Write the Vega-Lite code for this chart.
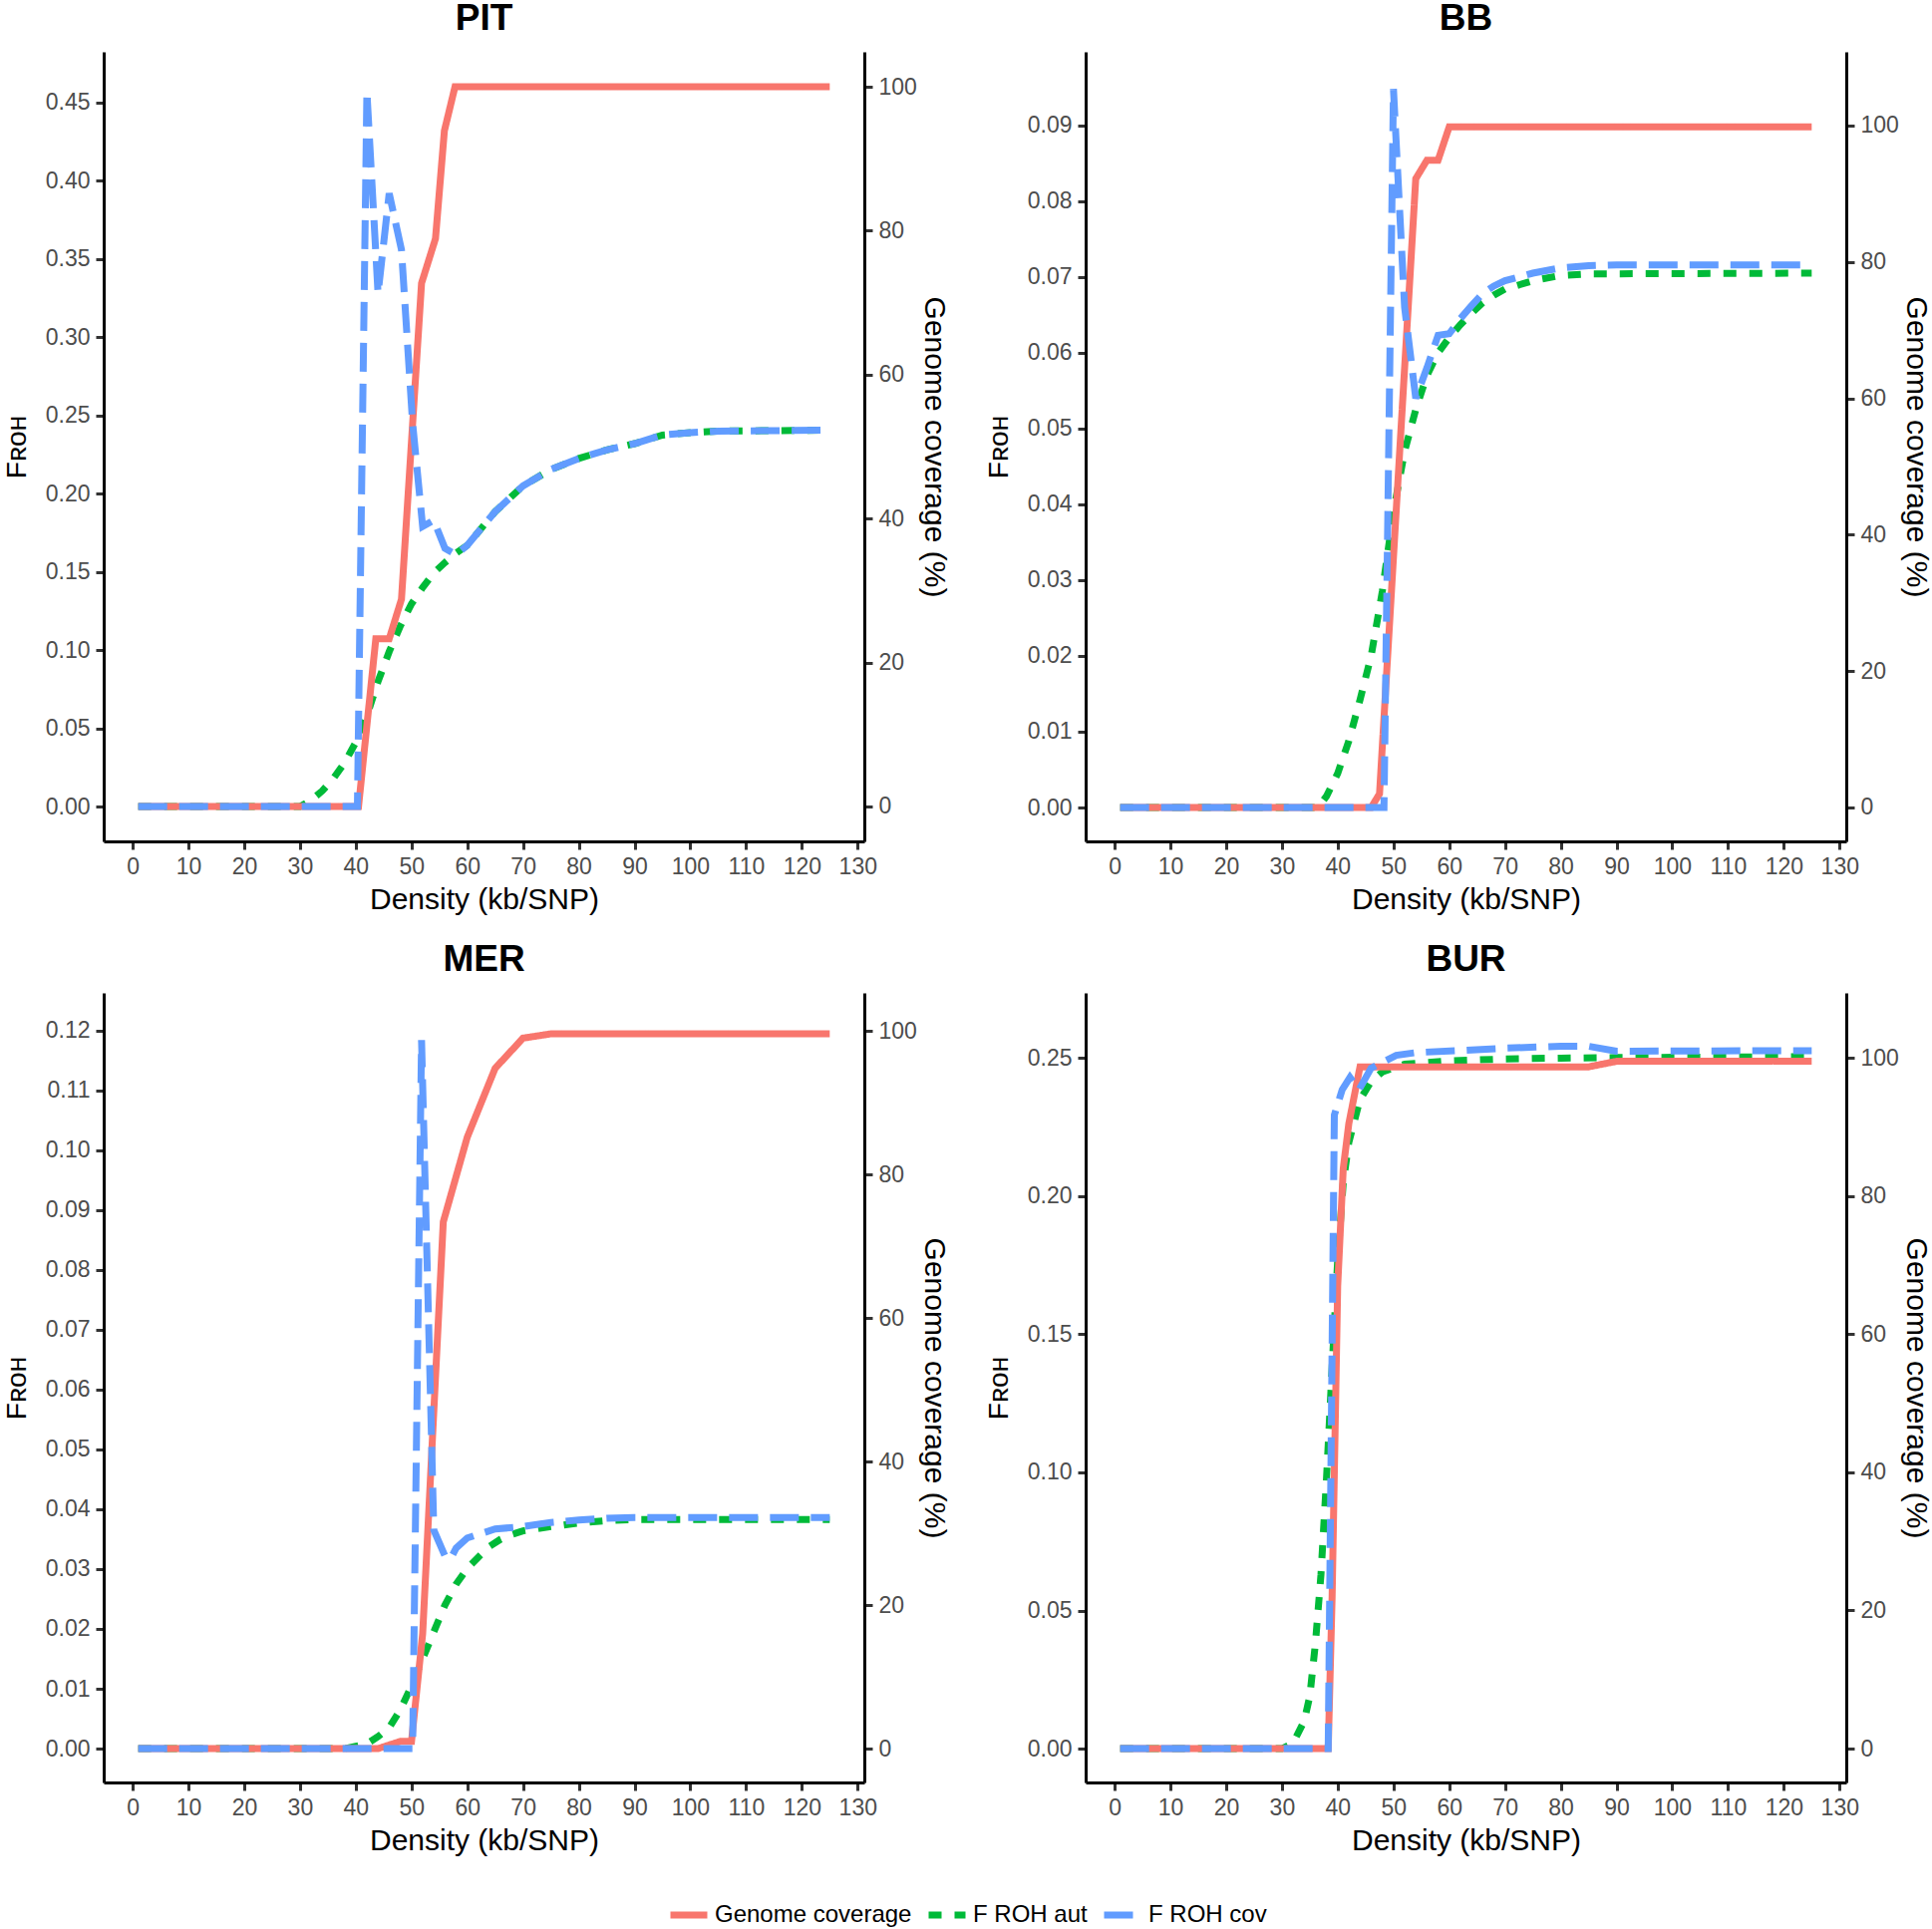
{
  "$schema": "https://vega.github.io/schema/vega-lite/v6.json",
  "padding": {"left": 3, "top": 0, "right": 0, "bottom": 0},
  "datasets": {
    "roh": [
      {"p":"PIT","s":"Genome coverage","x":1,"v":0},{"p":"PIT","s":"Genome coverage","x":40.5,"v":0},{"p":"PIT","s":"Genome coverage","x":43.6,"v":23.3},{"p":"PIT","s":"Genome coverage","x":46,"v":23.3},{"p":"PIT","s":"Genome coverage","x":48.2,"v":28.8},{"p":"PIT","s":"Genome coverage","x":51.8,"v":72.7},{"p":"PIT","s":"Genome coverage","x":54.3,"v":78.9},{"p":"PIT","s":"Genome coverage","x":55.9,"v":93.9},{"p":"PIT","s":"Genome coverage","x":57.8,"v":100},{"p":"PIT","s":"Genome coverage","x":125,"v":100},
      {"p":"PIT","s":"F ROH aut","x":1,"v":0},{"p":"PIT","s":"F ROH aut","x":30,"v":0},{"p":"PIT","s":"F ROH aut","x":32,"v":0.004},{"p":"PIT","s":"F ROH aut","x":34,"v":0.01},{"p":"PIT","s":"F ROH aut","x":36,"v":0.018},{"p":"PIT","s":"F ROH aut","x":38,"v":0.028},{"p":"PIT","s":"F ROH aut","x":40,"v":0.041},{"p":"PIT","s":"F ROH aut","x":42,"v":0.058},{"p":"PIT","s":"F ROH aut","x":44,"v":0.08},{"p":"PIT","s":"F ROH aut","x":46,"v":0.099},{"p":"PIT","s":"F ROH aut","x":48,"v":0.1154},{"p":"PIT","s":"F ROH aut","x":50,"v":0.1296},{"p":"PIT","s":"F ROH aut","x":52,"v":0.14},{"p":"PIT","s":"F ROH aut","x":54,"v":0.1494},{"p":"PIT","s":"F ROH aut","x":56,"v":0.156},{"p":"PIT","s":"F ROH aut","x":58,"v":0.162},{"p":"PIT","s":"F ROH aut","x":60,"v":0.167},{"p":"PIT","s":"F ROH aut","x":65,"v":0.1885},{"p":"PIT","s":"F ROH aut","x":70,"v":0.205},{"p":"PIT","s":"F ROH aut","x":75,"v":0.2155},{"p":"PIT","s":"F ROH aut","x":80,"v":0.2225},{"p":"PIT","s":"F ROH aut","x":85,"v":0.228},{"p":"PIT","s":"F ROH aut","x":90,"v":0.232},{"p":"PIT","s":"F ROH aut","x":95,"v":0.2375},{"p":"PIT","s":"F ROH aut","x":100,"v":0.239},{"p":"PIT","s":"F ROH aut","x":105,"v":0.24},{"p":"PIT","s":"F ROH aut","x":125,"v":0.2406},
      {"p":"PIT","s":"F ROH cov","x":1,"v":0},{"p":"PIT","s":"F ROH cov","x":40.3,"v":0},{"p":"PIT","s":"F ROH cov","x":42,"v":0.457},{"p":"PIT","s":"F ROH cov","x":44,"v":0.328},{"p":"PIT","s":"F ROH cov","x":46,"v":0.392},{"p":"PIT","s":"F ROH cov","x":48.2,"v":0.356},{"p":"PIT","s":"F ROH cov","x":50.2,"v":0.245},{"p":"PIT","s":"F ROH cov","x":52,"v":0.179},{"p":"PIT","s":"F ROH cov","x":54,"v":0.183},{"p":"PIT","s":"F ROH cov","x":56,"v":0.165},{"p":"PIT","s":"F ROH cov","x":58,"v":0.161},{"p":"PIT","s":"F ROH cov","x":60,"v":0.167},{"p":"PIT","s":"F ROH cov","x":65,"v":0.1885},{"p":"PIT","s":"F ROH cov","x":70,"v":0.205},{"p":"PIT","s":"F ROH cov","x":75,"v":0.2155},{"p":"PIT","s":"F ROH cov","x":80,"v":0.2225},{"p":"PIT","s":"F ROH cov","x":85,"v":0.228},{"p":"PIT","s":"F ROH cov","x":90,"v":0.232},{"p":"PIT","s":"F ROH cov","x":95,"v":0.2375},{"p":"PIT","s":"F ROH cov","x":100,"v":0.239},{"p":"PIT","s":"F ROH cov","x":105,"v":0.24},{"p":"PIT","s":"F ROH cov","x":125,"v":0.2406},

      {"p":"BB","s":"Genome coverage","x":1,"v":0},{"p":"BB","s":"Genome coverage","x":46,"v":0},{"p":"BB","s":"Genome coverage","x":47.5,"v":2},{"p":"BB","s":"Genome coverage","x":54,"v":92.2},{"p":"BB","s":"Genome coverage","x":56,"v":94.9},{"p":"BB","s":"Genome coverage","x":58,"v":94.9},{"p":"BB","s":"Genome coverage","x":60,"v":99.8},{"p":"BB","s":"Genome coverage","x":125,"v":99.8},
      {"p":"BB","s":"F ROH aut","x":1,"v":0},{"p":"BB","s":"F ROH aut","x":36.5,"v":0},{"p":"BB","s":"F ROH aut","x":38,"v":0.0015},{"p":"BB","s":"F ROH aut","x":40,"v":0.0045},{"p":"BB","s":"F ROH aut","x":42,"v":0.0088},{"p":"BB","s":"F ROH aut","x":44,"v":0.0142},{"p":"BB","s":"F ROH aut","x":46,"v":0.02},{"p":"BB","s":"F ROH aut","x":48,"v":0.0285},{"p":"BB","s":"F ROH aut","x":50,"v":0.039},{"p":"BB","s":"F ROH aut","x":52,"v":0.047},{"p":"BB","s":"F ROH aut","x":54,"v":0.0525},{"p":"BB","s":"F ROH aut","x":56,"v":0.057},{"p":"BB","s":"F ROH aut","x":58,"v":0.06},{"p":"BB","s":"F ROH aut","x":60,"v":0.062},{"p":"BB","s":"F ROH aut","x":62,"v":0.0637},{"p":"BB","s":"F ROH aut","x":64,"v":0.0652},{"p":"BB","s":"F ROH aut","x":66,"v":0.0666},{"p":"BB","s":"F ROH aut","x":68,"v":0.0676},{"p":"BB","s":"F ROH aut","x":70,"v":0.0684},{"p":"BB","s":"F ROH aut","x":75,"v":0.0695},{"p":"BB","s":"F ROH aut","x":80,"v":0.0702},{"p":"BB","s":"F ROH aut","x":85,"v":0.0704},{"p":"BB","s":"F ROH aut","x":125,"v":0.0705},
      {"p":"BB","s":"F ROH cov","x":1,"v":0},{"p":"BB","s":"F ROH cov","x":48.3,"v":0},{"p":"BB","s":"F ROH cov","x":50,"v":0.0948},{"p":"BB","s":"F ROH cov","x":52,"v":0.066},{"p":"BB","s":"F ROH cov","x":54,"v":0.054},{"p":"BB","s":"F ROH cov","x":56,"v":0.058},{"p":"BB","s":"F ROH cov","x":58,"v":0.0623},{"p":"BB","s":"F ROH cov","x":60,"v":0.0625},{"p":"BB","s":"F ROH cov","x":62,"v":0.0645},{"p":"BB","s":"F ROH cov","x":64,"v":0.0662},{"p":"BB","s":"F ROH cov","x":66,"v":0.0678},{"p":"BB","s":"F ROH cov","x":68,"v":0.0688},{"p":"BB","s":"F ROH cov","x":70,"v":0.0695},{"p":"BB","s":"F ROH cov","x":75,"v":0.0705},{"p":"BB","s":"F ROH cov","x":80,"v":0.0712},{"p":"BB","s":"F ROH cov","x":85,"v":0.0715},{"p":"BB","s":"F ROH cov","x":90,"v":0.0716},{"p":"BB","s":"F ROH cov","x":125,"v":0.0716},

      {"p":"MER","s":"Genome coverage","x":1,"v":0},{"p":"MER","s":"Genome coverage","x":44,"v":0},{"p":"MER","s":"Genome coverage","x":48,"v":1},{"p":"MER","s":"Genome coverage","x":50,"v":1},{"p":"MER","s":"Genome coverage","x":52,"v":16},{"p":"MER","s":"Genome coverage","x":55.7,"v":73.4},{"p":"MER","s":"Genome coverage","x":60,"v":85.2},{"p":"MER","s":"Genome coverage","x":65,"v":94.8},{"p":"MER","s":"Genome coverage","x":70,"v":99},{"p":"MER","s":"Genome coverage","x":75,"v":99.6},{"p":"MER","s":"Genome coverage","x":125,"v":99.6},
      {"p":"MER","s":"F ROH aut","x":1,"v":0},{"p":"MER","s":"F ROH aut","x":38,"v":0},{"p":"MER","s":"F ROH aut","x":42,"v":0.0008},{"p":"MER","s":"F ROH aut","x":44,"v":0.002},{"p":"MER","s":"F ROH aut","x":46,"v":0.0035},{"p":"MER","s":"F ROH aut","x":48,"v":0.0065},{"p":"MER","s":"F ROH aut","x":50,"v":0.0105},{"p":"MER","s":"F ROH aut","x":52,"v":0.015},{"p":"MER","s":"F ROH aut","x":54,"v":0.0195},{"p":"MER","s":"F ROH aut","x":56,"v":0.024},{"p":"MER","s":"F ROH aut","x":58,"v":0.0275},{"p":"MER","s":"F ROH aut","x":60,"v":0.0301},{"p":"MER","s":"F ROH aut","x":62,"v":0.032},{"p":"MER","s":"F ROH aut","x":64,"v":0.0338},{"p":"MER","s":"F ROH aut","x":66,"v":0.035},{"p":"MER","s":"F ROH aut","x":68,"v":0.0358},{"p":"MER","s":"F ROH aut","x":70,"v":0.0364},{"p":"MER","s":"F ROH aut","x":75,"v":0.0371},{"p":"MER","s":"F ROH aut","x":80,"v":0.0377},{"p":"MER","s":"F ROH aut","x":85,"v":0.0381},{"p":"MER","s":"F ROH aut","x":90,"v":0.0383},{"p":"MER","s":"F ROH aut","x":125,"v":0.0383},
      {"p":"MER","s":"F ROH cov","x":1,"v":0},{"p":"MER","s":"F ROH cov","x":50.2,"v":0},{"p":"MER","s":"F ROH cov","x":51.8,"v":0.1184},{"p":"MER","s":"F ROH cov","x":54,"v":0.0365},{"p":"MER","s":"F ROH cov","x":56,"v":0.0322},{"p":"MER","s":"F ROH cov","x":57,"v":0.0317},{"p":"MER","s":"F ROH cov","x":58,"v":0.0335},{"p":"MER","s":"F ROH cov","x":60,"v":0.0352},{"p":"MER","s":"F ROH cov","x":65,"v":0.0367},{"p":"MER","s":"F ROH cov","x":70,"v":0.0371},{"p":"MER","s":"F ROH cov","x":75,"v":0.0378},{"p":"MER","s":"F ROH cov","x":80,"v":0.0382},{"p":"MER","s":"F ROH cov","x":85,"v":0.0385},{"p":"MER","s":"F ROH cov","x":90,"v":0.0386},{"p":"MER","s":"F ROH cov","x":125,"v":0.0386},

      {"p":"BUR","s":"Genome coverage","x":1,"v":0},{"p":"BUR","s":"Genome coverage","x":38.3,"v":0},{"p":"BUR","s":"Genome coverage","x":39,"v":22},{"p":"BUR","s":"Genome coverage","x":40,"v":67},{"p":"BUR","s":"Genome coverage","x":41,"v":84},{"p":"BUR","s":"Genome coverage","x":42,"v":90.5},{"p":"BUR","s":"Genome coverage","x":44,"v":98.7},{"p":"BUR","s":"Genome coverage","x":85,"v":98.7},{"p":"BUR","s":"Genome coverage","x":90,"v":99.5},{"p":"BUR","s":"Genome coverage","x":125,"v":99.5},
      {"p":"BUR","s":"F ROH aut","x":1,"v":0},{"p":"BUR","s":"F ROH aut","x":30,"v":0},{"p":"BUR","s":"F ROH aut","x":32,"v":0.002},{"p":"BUR","s":"F ROH aut","x":34,"v":0.01},{"p":"BUR","s":"F ROH aut","x":35,"v":0.019},{"p":"BUR","s":"F ROH aut","x":36,"v":0.038},{"p":"BUR","s":"F ROH aut","x":37,"v":0.063},{"p":"BUR","s":"F ROH aut","x":38,"v":0.098},{"p":"BUR","s":"F ROH aut","x":39,"v":0.138},{"p":"BUR","s":"F ROH aut","x":40,"v":0.177},{"p":"BUR","s":"F ROH aut","x":41,"v":0.205},{"p":"BUR","s":"F ROH aut","x":42,"v":0.2195},{"p":"BUR","s":"F ROH aut","x":44,"v":0.235},{"p":"BUR","s":"F ROH aut","x":46,"v":0.2415},{"p":"BUR","s":"F ROH aut","x":48,"v":0.245},{"p":"BUR","s":"F ROH aut","x":52,"v":0.2478},{"p":"BUR","s":"F ROH aut","x":60,"v":0.249},{"p":"BUR","s":"F ROH aut","x":70,"v":0.2497},{"p":"BUR","s":"F ROH aut","x":80,"v":0.25},{"p":"BUR","s":"F ROH aut","x":90,"v":0.2502},{"p":"BUR","s":"F ROH aut","x":125,"v":0.2505},
      {"p":"BUR","s":"F ROH cov","x":1,"v":0},{"p":"BUR","s":"F ROH cov","x":38.3,"v":0},{"p":"BUR","s":"F ROH cov","x":39.4,"v":0.2294},{"p":"BUR","s":"F ROH cov","x":40.8,"v":0.2385},{"p":"BUR","s":"F ROH cov","x":42.2,"v":0.243},{"p":"BUR","s":"F ROH cov","x":43.8,"v":0.2385},{"p":"BUR","s":"F ROH cov","x":46,"v":0.2464},{"p":"BUR","s":"F ROH cov","x":50.5,"v":0.251},{"p":"BUR","s":"F ROH cov","x":54,"v":0.252},{"p":"BUR","s":"F ROH cov","x":61.5,"v":0.2527},{"p":"BUR","s":"F ROH cov","x":70,"v":0.2536},{"p":"BUR","s":"F ROH cov","x":80,"v":0.2543},{"p":"BUR","s":"F ROH cov","x":85,"v":0.2543},{"p":"BUR","s":"F ROH cov","x":90,"v":0.2525},{"p":"BUR","s":"F ROH cov","x":125,"v":0.2527}
    ]
  },
  "data": {"name": "roh"},
  "spacing": 27,
  "vconcat": [
    {
      "spacing": 36,
      "hconcat": [
        {
          "title": "PIT", "width": 763, "height": 792,
          "transform": [{"filter": "datum.p == 'PIT'"}],
          "layer": [
            {"transform": [{"filter": "datum.s == 'F ROH aut'"}], "mark": {"type": "line", "strokeWidth": 7, "strokeCap": "butt"},
             "encoding": {
               "x": {"field": "x", "type": "quantitative", "scale": {"domain": [-5.2, 131.2], "nice": false, "zero": false}, "axis": {"title": "Density (kb/SNP)", "values": [0,10,20,30,40,50,60,70,80,90,100,110,120,130], "format": "d"}},
               "y": {"field": "v", "type": "quantitative", "scale": {"domain": [-0.0223, 0.4825], "nice": false, "zero": false}, "axis": {"orient": "left", "title": "Fʀᴏʜ", "titleFontSize": 28, "values": [0,0.05,0.1,0.15,0.2,0.25,0.3,0.35,0.4,0.45], "format": ".2f"}},
               "color": {"field": "s", "type": "nominal", "scale": {"domain": ["Genome coverage","F ROH aut","F ROH cov"], "range": ["#F8766D","#00BA38","#619CFF"]}, "legend": {"title": null}},
               "strokeDash": {"field": "s", "type": "nominal", "scale": {"domain": ["Genome coverage","F ROH aut","F ROH cov"], "range": [[1,0],[13,13],[29,12]]}, "legend": {"title": null}}
             }},
            {"transform": [{"filter": "datum.s == 'Genome coverage'"}], "mark": {"type": "line", "strokeWidth": 7, "strokeCap": "butt"},
             "encoding": {
               "x": {"field": "x", "type": "quantitative", "scale": {"domain": [-5.2, 131.2], "nice": false, "zero": false}, "axis": {"title": "Density (kb/SNP)", "values": [0,10,20,30,40,50,60,70,80,90,100,110,120,130], "format": "d"}},
               "y": {"field": "v", "type": "quantitative", "scale": {"domain": [-4.85, 104.85], "nice": false, "zero": false}, "axis": {"orient": "right", "title": "Genome coverage (%)", "values": [0,20,40,60,80,100], "format": "d"}},
               "color": {"field": "s", "type": "nominal", "scale": {"domain": ["Genome coverage","F ROH aut","F ROH cov"], "range": ["#F8766D","#00BA38","#619CFF"]}, "legend": {"title": null}},
               "strokeDash": {"field": "s", "type": "nominal", "scale": {"domain": ["Genome coverage","F ROH aut","F ROH cov"], "range": [[1,0],[13,13],[29,12]]}, "legend": {"title": null}}
             }},
            {"transform": [{"filter": "datum.s == 'F ROH cov'"}], "mark": {"type": "line", "strokeWidth": 7, "strokeCap": "butt"},
             "encoding": {
               "x": {"field": "x", "type": "quantitative", "scale": {"domain": [-5.2, 131.2], "nice": false, "zero": false}, "axis": {"title": "Density (kb/SNP)", "values": [0,10,20,30,40,50,60,70,80,90,100,110,120,130], "format": "d"}},
               "y": {"field": "v", "type": "quantitative", "scale": {"domain": [-0.0223, 0.4825], "nice": false, "zero": false}, "axis": null},
               "color": {"field": "s", "type": "nominal", "scale": {"domain": ["Genome coverage","F ROH aut","F ROH cov"], "range": ["#F8766D","#00BA38","#619CFF"]}, "legend": {"title": null}},
               "strokeDash": {"field": "s", "type": "nominal", "scale": {"domain": ["Genome coverage","F ROH aut","F ROH cov"], "range": [[1,0],[13,13],[29,12]]}, "legend": {"title": null}}
             }}
          ],
          "resolve": {"scale": {"y": "independent"}}
        },
        {
          "title": "BB", "width": 763, "height": 792,
          "transform": [{"filter": "datum.p == 'BB'"}],
          "layer": [
            {"transform": [{"filter": "datum.s == 'F ROH aut'"}], "mark": {"type": "line", "strokeWidth": 7, "strokeCap": "butt"},
             "encoding": {
               "x": {"field": "x", "type": "quantitative", "scale": {"domain": [-5.2, 131.2], "nice": false, "zero": false}, "axis": {"title": "Density (kb/SNP)", "values": [0,10,20,30,40,50,60,70,80,90,100,110,120,130], "format": "d"}},
               "y": {"field": "v", "type": "quantitative", "scale": {"domain": [-0.00447, 0.0997], "nice": false, "zero": false}, "axis": {"orient": "left", "title": "Fʀᴏʜ", "titleFontSize": 28, "values": [0,0.01,0.02,0.03,0.04,0.05,0.06,0.07,0.08,0.09], "format": ".2f"}},
               "color": {"field": "s", "type": "nominal", "scale": {"domain": ["Genome coverage","F ROH aut","F ROH cov"], "range": ["#F8766D","#00BA38","#619CFF"]}, "legend": {"title": null}},
               "strokeDash": {"field": "s", "type": "nominal", "scale": {"domain": ["Genome coverage","F ROH aut","F ROH cov"], "range": [[1,0],[13,13],[29,12]]}, "legend": {"title": null}}
             }},
            {"transform": [{"filter": "datum.s == 'Genome coverage'"}], "mark": {"type": "line", "strokeWidth": 7, "strokeCap": "butt"},
             "encoding": {
               "x": {"field": "x", "type": "quantitative", "scale": {"domain": [-5.2, 131.2], "nice": false, "zero": false}, "axis": {"title": "Density (kb/SNP)", "values": [0,10,20,30,40,50,60,70,80,90,100,110,120,130], "format": "d"}},
               "y": {"field": "v", "type": "quantitative", "scale": {"domain": [-4.97, 110.8], "nice": false, "zero": false}, "axis": {"orient": "right", "title": "Genome coverage (%)", "values": [0,20,40,60,80,100], "format": "d"}},
               "color": {"field": "s", "type": "nominal", "scale": {"domain": ["Genome coverage","F ROH aut","F ROH cov"], "range": ["#F8766D","#00BA38","#619CFF"]}, "legend": {"title": null}},
               "strokeDash": {"field": "s", "type": "nominal", "scale": {"domain": ["Genome coverage","F ROH aut","F ROH cov"], "range": [[1,0],[13,13],[29,12]]}, "legend": {"title": null}}
             }},
            {"transform": [{"filter": "datum.s == 'F ROH cov'"}], "mark": {"type": "line", "strokeWidth": 7, "strokeCap": "butt"},
             "encoding": {
               "x": {"field": "x", "type": "quantitative", "scale": {"domain": [-5.2, 131.2], "nice": false, "zero": false}, "axis": {"title": "Density (kb/SNP)", "values": [0,10,20,30,40,50,60,70,80,90,100,110,120,130], "format": "d"}},
               "y": {"field": "v", "type": "quantitative", "scale": {"domain": [-0.00447, 0.0997], "nice": false, "zero": false}, "axis": null},
               "color": {"field": "s", "type": "nominal", "scale": {"domain": ["Genome coverage","F ROH aut","F ROH cov"], "range": ["#F8766D","#00BA38","#619CFF"]}, "legend": {"title": null}},
               "strokeDash": {"field": "s", "type": "nominal", "scale": {"domain": ["Genome coverage","F ROH aut","F ROH cov"], "range": [[1,0],[13,13],[29,12]]}, "legend": {"title": null}}
             }}
          ],
          "resolve": {"scale": {"y": "independent"}}
        }
      ]
    },
    {
      "spacing": 36,
      "hconcat": [
        {
          "title": "MER", "width": 763, "height": 792,
          "transform": [{"filter": "datum.p == 'MER'"}],
          "layer": [
            {"transform": [{"filter": "datum.s == 'F ROH aut'"}], "mark": {"type": "line", "strokeWidth": 7, "strokeCap": "butt"},
             "encoding": {
               "x": {"field": "x", "type": "quantitative", "scale": {"domain": [-5.2, 131.2], "nice": false, "zero": false}, "axis": {"title": "Density (kb/SNP)", "values": [0,10,20,30,40,50,60,70,80,90,100,110,120,130], "format": "d"}},
               "y": {"field": "v", "type": "quantitative", "scale": {"domain": [-0.00566, 0.1263], "nice": false, "zero": false}, "axis": {"orient": "left", "title": "Fʀᴏʜ", "titleFontSize": 28, "values": [0,0.01,0.02,0.03,0.04,0.05,0.06,0.07,0.08,0.09,0.1,0.11,0.12], "format": ".2f"}},
               "color": {"field": "s", "type": "nominal", "scale": {"domain": ["Genome coverage","F ROH aut","F ROH cov"], "range": ["#F8766D","#00BA38","#619CFF"]}, "legend": {"title": null}},
               "strokeDash": {"field": "s", "type": "nominal", "scale": {"domain": ["Genome coverage","F ROH aut","F ROH cov"], "range": [[1,0],[13,13],[29,12]]}, "legend": {"title": null}}
             }},
            {"transform": [{"filter": "datum.s == 'Genome coverage'"}], "mark": {"type": "line", "strokeWidth": 7, "strokeCap": "butt"},
             "encoding": {
               "x": {"field": "x", "type": "quantitative", "scale": {"domain": [-5.2, 131.2], "nice": false, "zero": false}, "axis": {"title": "Density (kb/SNP)", "values": [0,10,20,30,40,50,60,70,80,90,100,110,120,130], "format": "d"}},
               "y": {"field": "v", "type": "quantitative", "scale": {"domain": [-4.72, 105.3], "nice": false, "zero": false}, "axis": {"orient": "right", "title": "Genome coverage (%)", "values": [0,20,40,60,80,100], "format": "d"}},
               "color": {"field": "s", "type": "nominal", "scale": {"domain": ["Genome coverage","F ROH aut","F ROH cov"], "range": ["#F8766D","#00BA38","#619CFF"]}, "legend": {"title": null}},
               "strokeDash": {"field": "s", "type": "nominal", "scale": {"domain": ["Genome coverage","F ROH aut","F ROH cov"], "range": [[1,0],[13,13],[29,12]]}, "legend": {"title": null}}
             }},
            {"transform": [{"filter": "datum.s == 'F ROH cov'"}], "mark": {"type": "line", "strokeWidth": 7, "strokeCap": "butt"},
             "encoding": {
               "x": {"field": "x", "type": "quantitative", "scale": {"domain": [-5.2, 131.2], "nice": false, "zero": false}, "axis": {"title": "Density (kb/SNP)", "values": [0,10,20,30,40,50,60,70,80,90,100,110,120,130], "format": "d"}},
               "y": {"field": "v", "type": "quantitative", "scale": {"domain": [-0.00566, 0.1263], "nice": false, "zero": false}, "axis": null},
               "color": {"field": "s", "type": "nominal", "scale": {"domain": ["Genome coverage","F ROH aut","F ROH cov"], "range": ["#F8766D","#00BA38","#619CFF"]}, "legend": {"title": null}},
               "strokeDash": {"field": "s", "type": "nominal", "scale": {"domain": ["Genome coverage","F ROH aut","F ROH cov"], "range": [[1,0],[13,13],[29,12]]}, "legend": {"title": null}}
             }}
          ],
          "resolve": {"scale": {"y": "independent"}}
        },
        {
          "title": "BUR", "width": 763, "height": 792,
          "transform": [{"filter": "datum.p == 'BUR'"}],
          "layer": [
            {"transform": [{"filter": "datum.s == 'F ROH aut'"}], "mark": {"type": "line", "strokeWidth": 7, "strokeCap": "butt"},
             "encoding": {
               "x": {"field": "x", "type": "quantitative", "scale": {"domain": [-5.2, 131.2], "nice": false, "zero": false}, "axis": {"title": "Density (kb/SNP)", "values": [0,10,20,30,40,50,60,70,80,90,100,110,120,130], "format": "d"}},
               "y": {"field": "v", "type": "quantitative", "scale": {"domain": [-0.01226, 0.2736], "nice": false, "zero": false}, "axis": {"orient": "left", "title": "Fʀᴏʜ", "titleFontSize": 28, "values": [0,0.05,0.1,0.15,0.2,0.25], "format": ".2f"}},
               "color": {"field": "s", "type": "nominal", "scale": {"domain": ["Genome coverage","F ROH aut","F ROH cov"], "range": ["#F8766D","#00BA38","#619CFF"]}, "legend": {"title": null}},
               "strokeDash": {"field": "s", "type": "nominal", "scale": {"domain": ["Genome coverage","F ROH aut","F ROH cov"], "range": [[1,0],[13,13],[29,12]]}, "legend": {"title": null}}
             }},
            {"transform": [{"filter": "datum.s == 'Genome coverage'"}], "mark": {"type": "line", "strokeWidth": 7, "strokeCap": "butt"},
             "encoding": {
               "x": {"field": "x", "type": "quantitative", "scale": {"domain": [-5.2, 131.2], "nice": false, "zero": false}, "axis": {"title": "Density (kb/SNP)", "values": [0,10,20,30,40,50,60,70,80,90,100,110,120,130], "format": "d"}},
               "y": {"field": "v", "type": "quantitative", "scale": {"domain": [-4.9, 109.4], "nice": false, "zero": false}, "axis": {"orient": "right", "title": "Genome coverage (%)", "values": [0,20,40,60,80,100], "format": "d"}},
               "color": {"field": "s", "type": "nominal", "scale": {"domain": ["Genome coverage","F ROH aut","F ROH cov"], "range": ["#F8766D","#00BA38","#619CFF"]}, "legend": {"title": null}},
               "strokeDash": {"field": "s", "type": "nominal", "scale": {"domain": ["Genome coverage","F ROH aut","F ROH cov"], "range": [[1,0],[13,13],[29,12]]}, "legend": {"title": null}}
             }},
            {"transform": [{"filter": "datum.s == 'F ROH cov'"}], "mark": {"type": "line", "strokeWidth": 7, "strokeCap": "butt"},
             "encoding": {
               "x": {"field": "x", "type": "quantitative", "scale": {"domain": [-5.2, 131.2], "nice": false, "zero": false}, "axis": {"title": "Density (kb/SNP)", "values": [0,10,20,30,40,50,60,70,80,90,100,110,120,130], "format": "d"}},
               "y": {"field": "v", "type": "quantitative", "scale": {"domain": [-0.01226, 0.2736], "nice": false, "zero": false}, "axis": null},
               "color": {"field": "s", "type": "nominal", "scale": {"domain": ["Genome coverage","F ROH aut","F ROH cov"], "range": ["#F8766D","#00BA38","#619CFF"]}, "legend": {"title": null}},
               "strokeDash": {"field": "s", "type": "nominal", "scale": {"domain": ["Genome coverage","F ROH aut","F ROH cov"], "range": [[1,0],[13,13],[29,12]]}, "legend": {"title": null}}
             }}
          ],
          "resolve": {"scale": {"y": "independent"}}
        }
      ]
    }
  ],
  "config": {
    "font": "Liberation Sans",
    "view": {"stroke": null},
    "axis": {"grid": false, "domainColor": "#000000", "domainWidth": 3, "tickColor": "#333333", "tickWidth": 3, "tickSize": 8, "labelColor": "#4D4D4D", "labelFontSize": 23, "labelPadding": 6, "labelFlush": false, "labelOverlap": false, "labelFont": "Liberation Sans", "titleFont": "Liberation Sans", "titleFontSize": 30, "titleFontWeight": "normal", "titleColor": "#000000"},
    "axisX": {"titlePadding": 6},
    "axisLeft": {"titlePadding": 14},
    "axisRight": {"titlePadding": 2},
    "title": {"fontSize": 37, "fontWeight": "bold", "color": "#000000", "anchor": "middle", "offset": 14, "baseline": "alphabetic", "font": "Liberation Sans"},
    "legend": {"orient": "bottom", "layout": {"bottom": {"anchor": "middle"}}, "offset": 38, "direction": "horizontal", "labelFontSize": 24, "labelColor": "#000000", "labelFont": "Liberation Sans", "labelLimit": 400, "symbolType": "stroke", "symbolStrokeWidth": 7, "symbolSize": 1369, "labelOffset": 4, "columnPadding": 2}
  }
}
